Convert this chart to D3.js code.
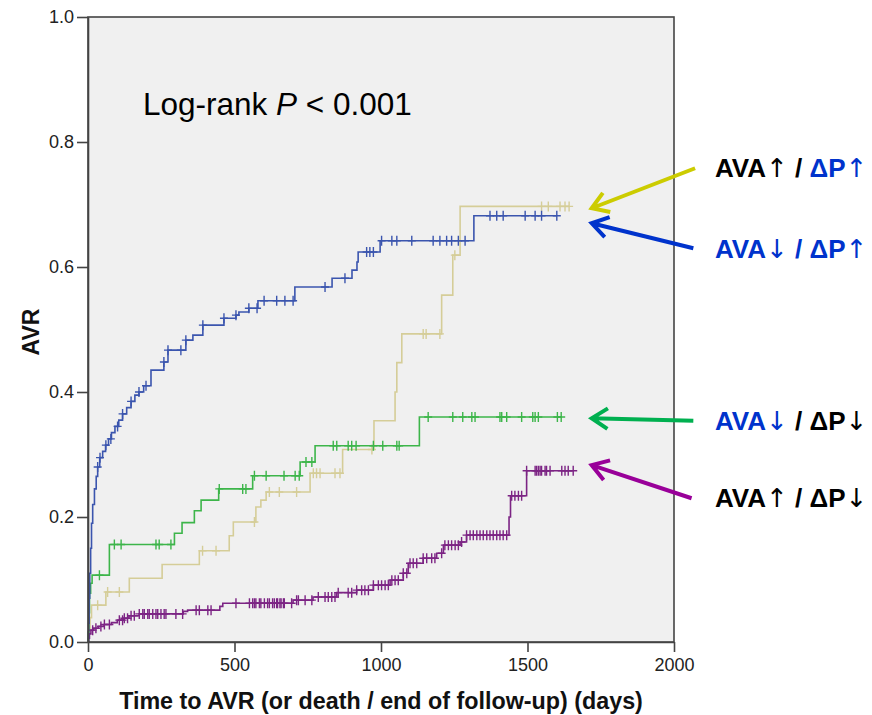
<!DOCTYPE html>
<html>
<head>
<meta charset="utf-8">
<script src="https://cdn.jsdelivr.net/npm/d3@7"></script>
<style>
  html, body { margin: 0; padding: 0; background: #ffffff; }
  svg { display: block; font-family: "Liberation Sans", Arial, sans-serif; }
</style>
</head>
<body>
<svg id="chart" width="872" height="715"></svg>
<script>
// Axis ticks
const xTicks = [0, 500, 1000, 1500, 2000];
const yTicks = [0, 0.2, 0.4, 0.6, 0.8, 1.0];

// Cumulative AVR incidence: [day, value after the event on that day]
const blueSteps = [[2,0.03],[4,0.07],[6,0.11],[9,0.15],[12,0.19],[16,0.22],[22,0.245],[28,0.265],[33,0.28],[40,0.295],[50,0.305],[60,0.315],[70,0.325],[80,0.335],[92,0.345],[105,0.355],[118,0.365],[132,0.375],[147,0.385],[160,0.395],[174,0.40],[190,0.41],[215,0.435],[259,0.448],[273,0.467],[334,0.483],[358,0.491],[392,0.507],[464,0.518],[505,0.523],[515,0.528],[549,0.534],[580,0.546],[706,0.568],[833,0.582],[901,0.595],[918,0.608],[922,0.624],[997,0.642],[1317,0.682]];
const blueCensored = [33,41,61,78,101,118,147,174,198,259,273,317,334,392,464,505,549,577,601,644,672,700,809,877,951,962,974,1002,1037,1054,1105,1178,1201,1224,1241,1264,1287,1372,1395,1417,1492,1526,1548,1600];

const greenSteps = [[1,0.016],[3,0.047],[5,0.078],[9,0.094],[14,0.107],[73,0.156],[295,0.174],[321,0.191],[363,0.21],[386,0.227],[446,0.245],[562,0.266],[724,0.288],[775,0.314],[1131,0.36]];
const greenCensored = [39,90,113,232,243,283,448,528,539,568,608,669,707,721,744,764,837,849,888,900,915,974,1006,1054,1062,1161,1245,1279,1310,1321,1406,1412,1429,1480,1518,1526,1537,1602,1615];

const khakiSteps = [[3,0.02],[7,0.039],[12,0.059],[61,0.08],[141,0.102],[253,0.124],[380,0.146],[482,0.17],[496,0.192],[573,0.216],[590,0.227],[608,0.24],[758,0.27],[869,0.308],[976,0.354],[1048,0.4],[1054,0.447],[1071,0.493],[1207,0.555],[1245,0.619],[1270,0.697]];
const khakiCensored = [33,67,107,391,437,568,619,653,712,769,780,792,843,860,969,1144,1154,1201,1252,1548,1571,1611,1628,1642];

const purpleSteps = [[2,0.006],[5,0.013],[10,0.019],[20,0.022],[35,0.025],[55,0.028],[80,0.031],[100,0.035],[120,0.038],[140,0.042],[175,0.045],[325,0.049],[340,0.051],[450,0.057],[460,0.062],[700,0.067],[768,0.072],[849,0.079],[917,0.083],[974,0.091],[1031,0.099],[1076,0.11],[1093,0.126],[1144,0.134],[1190,0.142],[1213,0.155],[1270,0.16],[1292,0.171],[1437,0.20],[1442,0.234],[1497,0.274]];
const purpleCensored = [16,27,44,56,73,107,118,124,135,147,158,175,187,192,204,209,221,232,238,249,260,266,300,323,369,380,409,420,505,551,562,568,573,585,590,602,613,619,630,636,644,647,655,659,667,670,695,712,718,741,764,786,809,820,832,843,854,888,900,917,934,945,957,974,991,1002,1014,1025,1037,1048,1059,1076,1088,1099,1110,1122,1144,1156,1173,1184,1207,1218,1230,1241,1253,1264,1275,1292,1304,1315,1327,1338,1349,1361,1372,1383,1395,1406,1417,1429,1446,1457,1469,1480,1497,1526,1531,1537,1543,1548,1560,1565,1577,1617,1628,1639,1656];

const groups = [
  { name: "AVA↑ / ΔP↑", steps: khakiSteps,  censored: khakiCensored,  color: "#d5cd98" },
  { name: "AVA↓ / ΔP↓", steps: greenSteps,  censored: greenCensored,  color: "#3db54a" },
  { name: "AVA↑ / ΔP↓", steps: purpleSteps, censored: purpleCensored, color: "#7c2484" },
  { name: "AVA↓ / ΔP↑", steps: blueSteps,   censored: blueCensored,   color: "#3b55ae" }
];

// Annotation arrows: tail and tip in [day, value]
const arrows = [
  { tail: [2072, 0.758], tip: [1719, 0.694], color: "#cccc00" },
  { tail: [2066, 0.630], tip: [1719, 0.670], color: "#0033cc" },
  { tail: [2066, 0.354], tip: [1719, 0.358], color: "#00b050" },
  { tail: [2060, 0.230], tip: [1719, 0.283], color: "#990099" }
];

const svg = d3.select("#chart");
const plot = { left: 88, right: 674, top: 17, bottom: 642 };

const x = d3.scaleLinear().domain([0, 2000]).range([plot.left, plot.right]);
const y = d3.scaleLinear().domain([0, 1]).range([plot.bottom, plot.top]);

// Plot background
svg.append("rect")
  .attr("x", plot.left).attr("y", plot.top)
  .attr("width", plot.right - plot.left).attr("height", plot.bottom - plot.top)
  .attr("fill", "#f0f0f0");

// Step curves with censor marks
const line = d3.line().x(d => x(d[0])).y(d => y(d[1])).curve(d3.curveStepAfter);

function valueAt(steps, t) {
  let v = 0;
  for (const s of steps) { if (s[0] <= t) v = s[1]; else break; }
  return v;
}

groups.forEach(g => {
  const end = Math.max(d3.max(g.censored), g.steps[g.steps.length - 1][0]);
  const pts = [[0, 0], ...g.steps, [end, g.steps[g.steps.length - 1][1]]];
  const grp = svg.append("g").attr("class", "km");
  grp.append("path")
    .attr("d", line(pts))
    .attr("fill", "none")
    .attr("stroke", g.color)
    .attr("stroke-width", 1.6);
  grp.selectAll("path.cens")
    .data(g.censored)
    .join("path")
    .attr("class", "cens")
    .attr("d", t => {
      const cx = x(t), cy = y(valueAt(g.steps, t));
      return `M${cx},${cy - 5}V${cy + 5}M${cx - 4},${cy}H${cx + 4}`;
    })
    .attr("stroke", g.color)
    .attr("stroke-width", 1.4)
    .attr("fill", "none");
});

// Frame
svg.append("rect")
  .attr("x", plot.left).attr("y", plot.top)
  .attr("width", plot.right - plot.left).attr("height", plot.bottom - plot.top)
  .attr("fill", "none")
  .attr("stroke", "#444")
  .attr("stroke-width", 1.6);

// Axes
const yAxis = svg.append("g")
  .attr("transform", `translate(${plot.left},0)`)
  .call(d3.axisLeft(y).tickValues(yTicks).tickFormat(d3.format(".1f")).tickSize(11).tickSizeOuter(0).tickPadding(3));
const xAxis = svg.append("g")
  .attr("transform", `translate(0,${plot.bottom})`)
  .call(d3.axisBottom(x).tickValues(xTicks).tickFormat(d3.format("d")).tickSize(10).tickSizeOuter(0).tickPadding(6));
[yAxis, xAxis].forEach(a => {
  a.select(".domain").attr("stroke", "#444").attr("stroke-width", 1.6);
  a.selectAll(".tick line").attr("stroke", "#444").attr("stroke-width", 1.6);
  a.selectAll(".tick text").attr("fill", "#222").style("font-size", "18px")
    .style("font-family", "'Liberation Sans', Arial, sans-serif");
});

// Axis titles
svg.append("text")
  .attr("x", (plot.left + plot.right) / 2)
  .attr("y", 709)
  .attr("text-anchor", "middle")
  .attr("font-weight", "bold")
  .attr("font-size", 23.3)
  .attr("fill", "#111")
  .text("Time to AVR (or death / end of follow-up) (days)");

svg.append("text")
  .attr("transform", "translate(39,332) rotate(-90)")
  .attr("text-anchor", "middle")
  .attr("font-weight", "bold")
  .attr("font-size", 23)
  .attr("fill", "#111")
  .text("AVR");

// Log-rank annotation
const lr = svg.append("text")
  .attr("x", 143).attr("y", 115)
  .attr("font-size", 31.5)
  .attr("fill", "#000");
lr.append("tspan").text("Log-rank ");
lr.append("tspan").attr("font-style", "italic").text("P");
lr.append("tspan").text(" < 0.001");

// Arrows pointing at the curve ends
arrows.forEach(a => {
  const x1 = x(a.tail[0]), y1 = y(a.tail[1]);
  const x2 = x(a.tip[0]), y2 = y(a.tip[1]);
  const ang = Math.atan2(y1 - y2, x1 - x2);
  const len = 19, spread = Math.PI / 5.5;
  const h1 = [x2 + len * Math.cos(ang + spread), y2 + len * Math.sin(ang + spread)];
  const h2 = [x2 + len * Math.cos(ang - spread), y2 + len * Math.sin(ang - spread)];
  svg.append("path")
    .attr("d", `M${x1},${y1}L${x2},${y2}M${h1[0]},${h1[1]}L${x2},${y2}L${h2[0]},${h2[1]}`)
    .attr("fill", "none")
    .attr("stroke", a.color)
    .attr("stroke-width", 4)
    .attr("stroke-linejoin", "miter");
});

// Group labels; the arrow glyphs are set in DejaVu Sans for full-height arrows
const black = "#000", blue = "#0033cc";
const labels = [
  { y: 177, parts: [["AVA", black], ["↑", black], [" / ΔP", black, blue], ["↑", blue]] },
  { y: 258, parts: [["AVA", blue], ["↓", blue], [" / ΔP", blue], ["↑", blue]] },
  { y: 430, parts: [["AVA", blue], ["↓", blue], [" / ΔP", black], ["↓", black]] },
  { y: 507, parts: [["AVA", black], ["↑", black], [" / ΔP", black], ["↓", black]] }
];
labels.forEach(l => {
  const t = svg.append("text")
    .attr("x", 715).attr("y", l.y)
    .attr("font-size", 26)
    .attr("font-weight", "bold");
  l.parts.forEach(p => {
    if (p[0] === "↑" || p[0] === "↓") {
      t.append("tspan").attr("fill", p[1])
        .attr("font-family", "'DejaVu Sans', sans-serif")
        .attr("font-weight", "normal")
        .text(p[0]);
    } else if (p.length === 3) {
      // " / " in the first colour, "ΔP" in the second
      t.append("tspan").attr("fill", p[1]).text(" / ");
      t.append("tspan").attr("fill", p[2]).text("ΔP");
    } else {
      t.append("tspan").attr("fill", p[1]).text(p[0]);
    }
  });
});
</script>
</body>
</html>
